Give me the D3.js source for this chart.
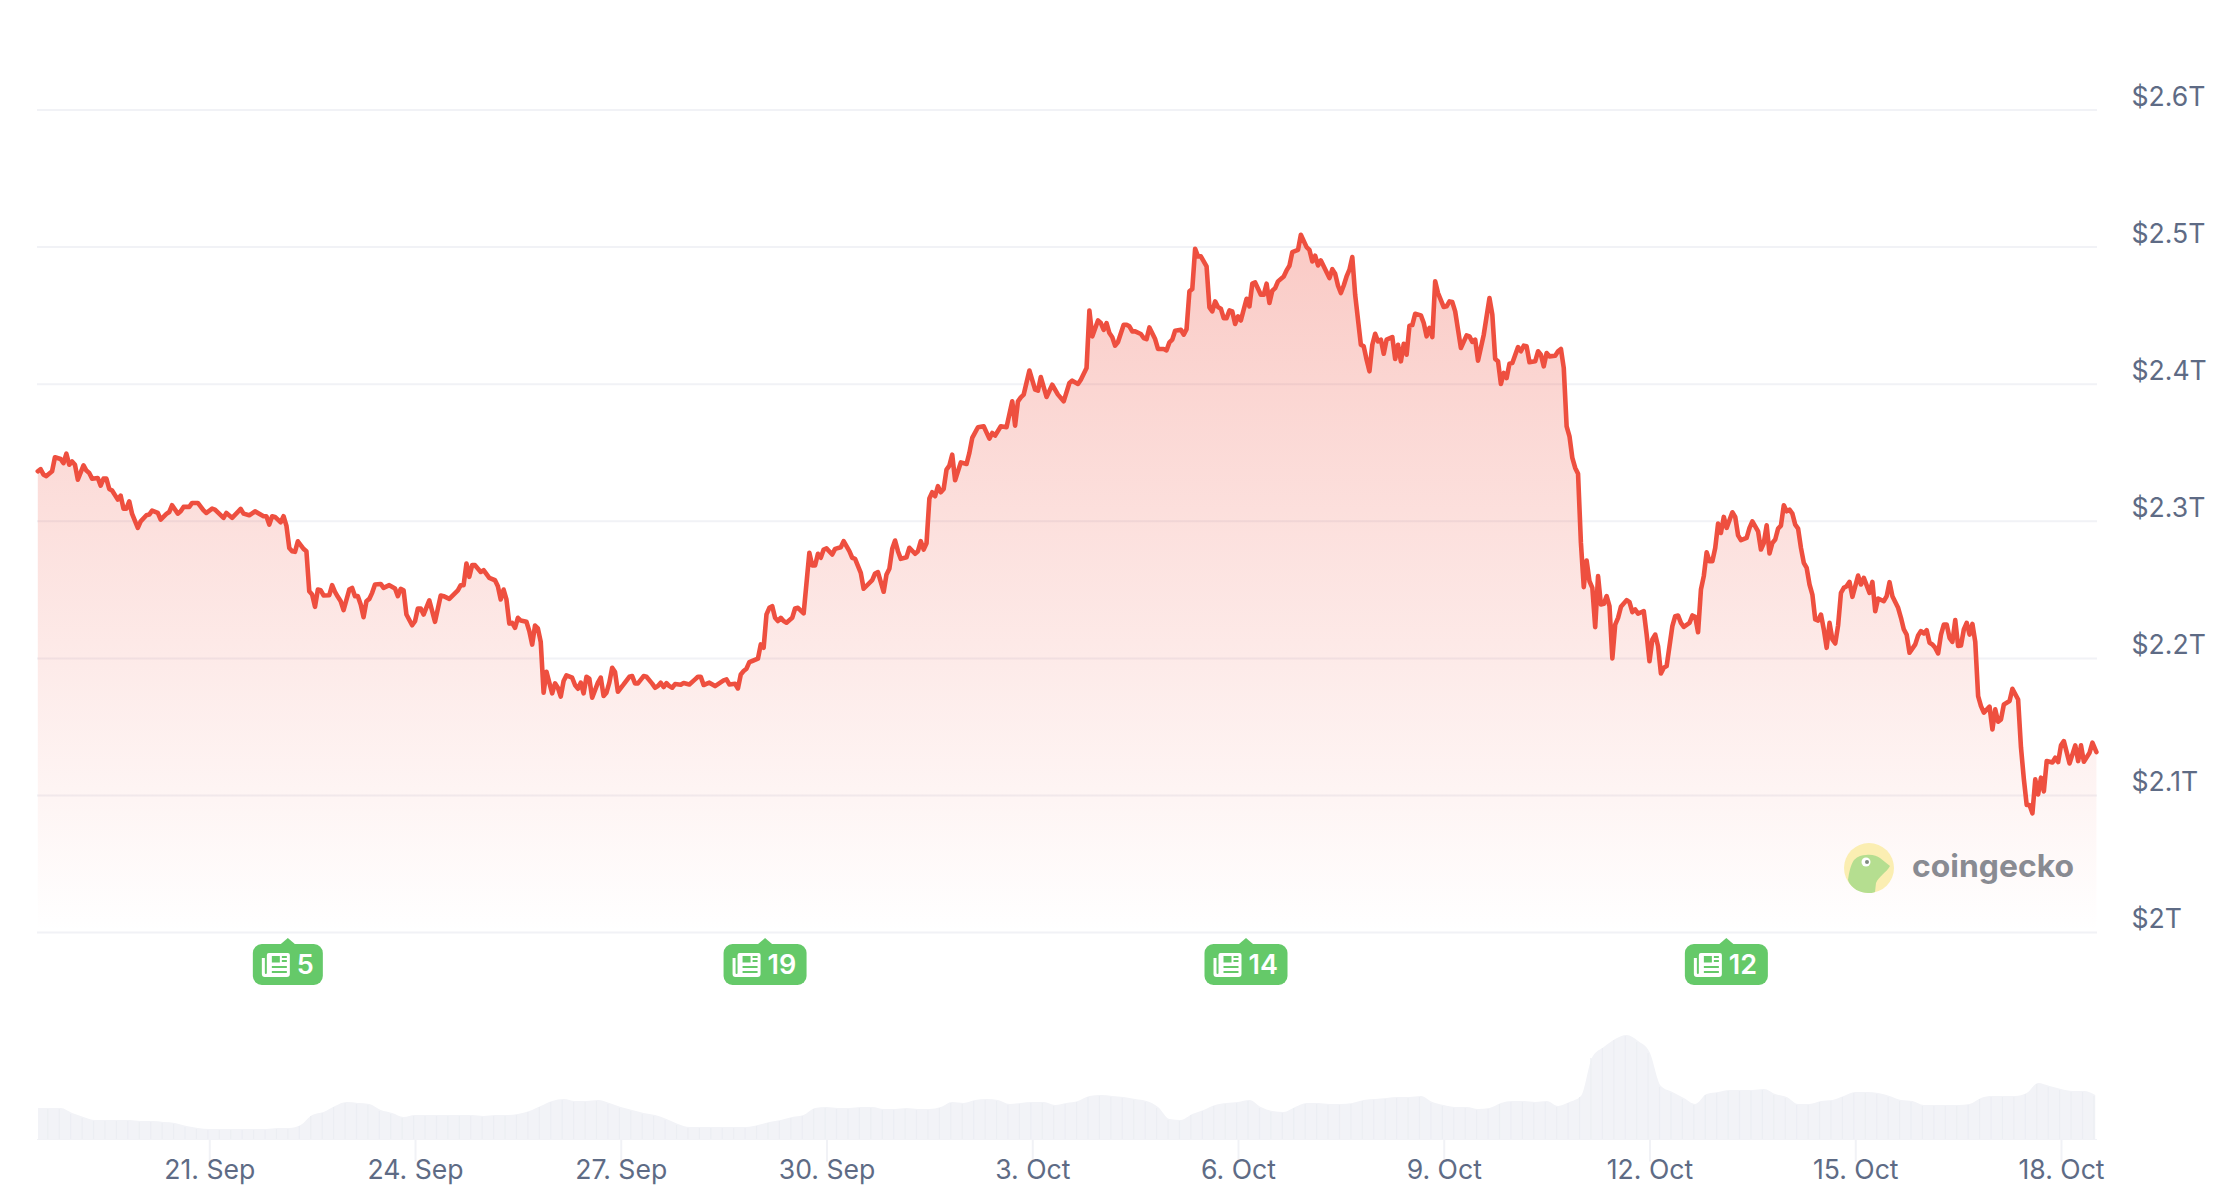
<!DOCTYPE html>
<html>
<head>
<meta charset="utf-8">
<script src="https://cdn.jsdelivr.net/npm/d3@7/dist/d3.min.js"></script>
<style>
html,body{margin:0;padding:0;background:#fff}
svg{display:block}
text{font-family:Inter,"Noto Sans",sans-serif}
</style>
</head>
<body>
<svg id="chart" width="2230" height="1198"></svg>
<script>
// Market cap readings: [hours since 18 Sep 12:00, $ billions]
const capLateSep1 = [[0,2336.5],[1,2338],[2,2334],[3,2333],[5,2336.5],[6,2346.7],[8,2345.4],[9,2342.5],[10,2349.3],[11,2341.3],[12,2343.7],[13,2341.3],[14,2330.4],[16,2340.8],[17,2337],[18,2335.2],[19,2331.1],[21,2331.6],[22,2326],[23,2331.1],[24,2331.1],[25,2323.6],[26,2322.4],[28,2315.8],[29,2318.7],[30,2309.2],[31,2309.2],[32,2314.6],[33,2305.4],[35,2295.2],[36,2300],[38,2304.4],[39,2304.9],[40,2307.8],[42,2306.1],[43,2301.2],[45,2305.4],[46,2306.8],[47,2311.7],[49,2305.6],[50,2307.3],[51,2310.5],[53,2310.5],[54,2313.4],[56,2313.4],[58,2308],[59,2306.1],[61,2309.2],[62,2308.5],[65,2302.5],[66,2306.1],[68,2302.5],[71,2309],[72,2305.6],[74,2304.4],[76,2307.3],[79,2303.7],[80,2303.7],[81,2297.6],[82,2303.7],[83,2303.2],[85,2299.3],[86,2303.7],[87,2296.9],[88,2280.6],[89,2278.2],[90,2277.7],[91,2285.4],[93,2279.9],[94,2278.2],[95,2249],[96,2246.6],[97,2237.6],[98,2250.2],[99,2249.7],[100,2245.9],[102,2246.1],[103,2253.4],[104,2248.5],[105,2244.9],[106,2241.7],[107,2235.2],[109,2250.2],[110,2251.4],[111,2245.4],[112,2245.4],[113,2239.3],[114,2230.1],[115,2241.7],[116,2243.4],[117,2247.8],[118,2253.9],[120,2254.3],[121,2251.4],[123,2253.4],[125,2251],[126,2245.4],[127,2250.7],[128,2249.7],[129,2232],[131,2224.2],[132,2227.1],[133,2236.4],[134,2236.4],[135,2232],[137,2242.4],[139,2226.7],[141,2245.9],[142,2245.4],[144,2243.4],[147,2249.7],[148,2253.4],[149,2253.4],[150,2269.2],[151,2259.5],[152,2268],[153,2268],[155,2263.1],[156,2264.3],[158,2258.7],[160,2257],[161,2252.6],[162,2243],[163,2250.2],[164,2243],[165,2225.4],[166,2225.9],[167,2222.3],[168,2229.6],[169,2227.6],[171,2226.7],[172,2219.9],[173,2210.1],[174,2224]];
const capLateSep2 = [[175,2221.9],[176,2211.9],[177,2175],[178,2190.3],[179,2182.3],[180,2174.5],[181,2181.8],[182,2178.6],[183,2172.1],[184,2183.5],[185,2187.6],[187,2185.9],[188,2180.6],[189,2177.9],[190,2182.3],[191,2174.5],[192,2186.6],[193,2185.2],[194,2171.3],[196,2182.3],[197,2186],[198,2172.6],[199,2175],[200,2182.3],[201,2193.2],[202,2190],[203,2175.7],[205,2181],[207,2186.6],[208,2187.1],[209,2181.8],[210,2181.8],[212,2187.1],[213,2186.6],[215,2181.6],[216,2178.6],[217,2179.8],[218,2182.3],[219,2179.1],[220,2182],[221,2179.8],[222,2178.6],[223,2181.3],[225,2180.8],[226,2182],[228,2181],[230,2184.7],[231,2186.6],[232,2186.6],[233,2180.6],[235,2182.3],[237,2179.8],[240,2184],[241,2184.7],[242,2181],[244,2181.5],[245,2178.1],[246,2188.3],[247,2190.8],[248,2192.5],[249,2197.3],[250,2198.1],[252,2199.8],[253,2210.2],[254,2207.8],[255,2232.1],[256,2236.9],[257,2238.1],[258,2229.6],[259,2227.2],[260,2229.6],[261,2227.2],[262,2226],[264,2229.6],[265,2236.4],[266,2236.9],[268,2232.8],[270,2277],[271,2267.8],[272,2267.8],[273,2276.3],[274,2273.4],[275,2279.4],[276,2280.2],[278,2275.8],[279,2279.9],[281,2281.1],[282,2285.5],[284,2278.2],[285,2273.4],[286,2272.6],[288,2262.4],[289,2250.8],[292,2257.1],[293,2261.9],[294,2262.9],[296,2248.6],[297,2261.2],[298,2265.4],[299,2279.9],[300,2286],[301,2278.2],[302,2272.6],[304,2273.8],[305,2280.7],[307,2276.3],[308,2278.2],[309,2285.5],[310,2279.4],[311,2284]];
const capEarlyOct = [[312,2316.6],[313,2321.2],[314,2318.3],[315,2325.6],[316,2321.2],[317,2323.6],[318,2337.7],[319,2340.6],[320,2348.6],[321,2329.9],[323,2343],[325,2341.8],[326,2349.9],[327,2360.8],[329,2368.6],[331,2369.3],[333,2360.3],[334,2364.4],[335,2362.5],[337,2369.3],[339,2368.6],[341,2387.5],[342,2369.8],[343,2387.5],[344,2390.4],[345,2392.4],[347,2410],[349,2396],[350,2395.3],[351,2405.2],[353,2390.7],[355,2399.6],[357,2392.4],[359,2387.5],[361,2400.9],[362,2402.6],[364,2400.2],[365,2403.3],[367,2411.8],[368,2453.8],[369,2434.9],[371,2446.5],[372,2444.6],[373,2439.7],[374,2444.6],[375,2437.3],[376,2434.2],[377,2428.1],[378,2430.8],[380,2443.4],[381,2443.4],[382,2442.2],[383,2438.5],[384,2438.5],[386,2436.6],[387,2433.7],[388,2432.9],[389,2441.4],[391,2432.9],[392,2425.7],[394,2425.7],[395,2424.7],[396,2430.5],[397,2432.5],[398,2439],[400,2439.7],[401,2436.1],[402,2440.2],[403,2467.7],[404,2469.4],[405,2498.8],[406,2493.2],[407,2493.2],[408,2489.5],[409,2485.9],[410,2456],[411,2453.1],[412,2460.4],[413,2456.3],[414,2455.1],[415,2448.2],[416,2448.2],[417,2453.8],[418,2453.1],[419,2443.9],[420,2449.5],[421,2446.5],[423,2462.3],[424,2456.7],[425,2473.3],[426,2474.2],[428,2465.2],[429,2465.2],[430,2473.3],[431,2459.2],[432,2468.2],[433,2470.1],[434,2475],[436,2478.6],[437,2483],[438,2486.4],[439,2496.3],[441,2498],[442,2509],[444,2500],[445,2498],[446,2489.5],[447,2493.7],[448,2486.6],[449,2490.3],[452,2477.4],[453,2483.9],[454,2480.6],[455,2471.8],[456,2466.5],[457,2472],[458,2478.6],[459,2483.5],[460,2492.7],[461,2465.2],[463,2428.8],[464,2427.6],[465,2417.9],[466,2409.4],[467,2428.8],[468,2436.8],[469,2431.2],[470,2432.5],[471,2422.2],[472,2432.5],[474,2434.4],[475,2418.4],[476,2428.8],[477,2416.7],[478,2429.5],[479,2421.5],[480,2442.7],[481,2443.1],[482,2451.4],[484,2450.2],[485,2444.6],[486,2434.9],[487,2441],[488,2434.4],[489,2475],[490,2466.5],[492,2456.3],[493,2456.8],[494,2460.4],[495,2459.9],[496,2453.1],[498,2426.4],[500,2435.6],[501,2434.9],[502,2430.8],[503,2432.5],[504,2417.2],[506,2436.1],[508,2462.8],[509,2450.7],[510,2418.4],[511,2416.7],[512,2400.2],[513,2408.2],[514,2404.5],[515,2415],[516,2415.5],[518,2427.1],[519,2424],[520,2428.1],[521,2427.6],[522,2416],[524,2416.7],[525,2424],[526,2421.5],[527,2413],[528,2422.7],[529,2420.3],[531,2420.8],[532,2424],[533,2425.7],[534,2411.8],[535,2369.3],[536,2362],[537,2346.2],[538,2338.9],[539,2334.6]];
const capMidOct = [[540,2284.2],[541,2252],[542,2271.4],[543,2256.3],[544,2251.5],[545,2222.8],[546,2260],[547,2239.3],[548,2239.8],[549,2245.4],[550,2238.1],[551,2200],[552,2224.7],[553,2229.6],[554,2237.6],[556,2242.5],[557,2241],[558,2233.7],[559,2235.7],[560,2232.7],[562,2234.4],[563,2217.4],[564,2198],[565,2213.8],[566,2217.4],[567,2208.9],[568,2189],[569,2193.2],[570,2194.4],[572,2223.5],[573,2230.8],[574,2231.3],[575,2225.9],[576,2223],[578,2225.9],[579,2231.3],[580,2230.3],[581,2219.1],[582,2250.2],[583,2260],[584,2277.4],[585,2270.9],[586,2270.9],[587,2280.6],[588,2298.3],[589,2291.5],[590,2303.2],[591,2295.2],[593,2306.6],[594,2303.2],[595,2289.8],[596,2286.2],[598,2287.9],[599,2295.2],[600,2300],[602,2292.7],[603,2279.4],[604,2284.2],[605,2297.1],[606,2276.5],[607,2284.2],[608,2286.7],[609,2294.7],[610,2296.9],[611,2311.7],[612,2307.3],[613,2308.5],[614,2305.6],[615,2297.6],[616,2294.7],[617,2280.6],[618,2269.7],[619,2266],[620,2253.9],[621,2246.6],[622,2228.4],[623,2227.6],[624,2232],[625,2221.1],[626,2207.7],[627,2225.9],[628,2213.8],[629,2210.9],[630,2224],[631,2247.8],[632,2251.5],[633,2252.7],[634,2255.8],[635,2244.9],[637,2260.4],[638,2253.9],[639,2258.7],[641,2247.8],[642,2255.8],[643,2234.4],[644,2243.7],[646,2241.7],[647,2245.4],[648,2255.6],[649,2245.4],[651,2236.9],[652,2229.6],[653,2221.1],[654,2217.4],[655,2204.1],[657,2210.2],[658,2216.7],[659,2219.9],[660,2218.2],[661,2220.6],[662,2211.4],[663,2210.2],[664,2207.7],[665,2203.6],[666,2217.4],[667,2224.7],[668,2224.7],[669,2215],[670,2212.1],[671,2227.9],[672,2209],[673,2209.4],[674,2221.1],[675,2225.9],[676,2217.4],[677,2225.2],[678,2212]];
const capLastDays = [[679,2172.5],[680,2165.2],[681,2160.4],[683,2164.8],[684,2148.2],[685,2162.8],[686,2153.8],[687,2155.5],[688,2166.4],[690,2168.9],[691,2177.8],[693,2170],[694,2135],[695,2112],[696,2093.1],[697,2093.1],[698,2087],[699,2111.8],[700,2100.8],[701,2113],[702,2103],[703,2125.1],[705,2124.1],[706,2127.6],[707,2124.4],[708,2136.6],[709,2139.7],[711,2123.4],[713,2136.6],[714,2125.1],[715,2136.6],[716,2124.7],[718,2131.2],[719,2138.5],[720.4,2131.7]];

// Four-hourly volume readings, arbitrary $ billions
const volumeA = [31,31,31,26,22,19,19,19,19,18,18,17,16,13,11,10,10,10,10,10,10,11,11,14,24,27,33,37,36,35,29,26,22,24,24,24,24,24,24,23,24,24,25,28,33,38,40,38,38,39,36,32,29,26,24,20,15,12,12,12,12,12,12,14];
const volumeB = [17,19,22,24,31,32,31,31,32,32,30,30,31,30,30,32,37,36,39,40,39,35,36,37,37,34,36,38,43,44,43,42,40,38,32,20,19,25,29,34,36,37,39,32,28,27,32,36,36,35,35,36,39,40,41,42,42,43,37,34,32,32,30,31,36,38,38,37,38];
const volumeC = [33,37,43,82,92,100,104,98,87,53,47,41,35,45,47,49,49,49,50,45,42,35,35,38,39,43,47,47,46,43,39,38,34,34,34,34,35,41,43,43,43,46,56,53,50,48,48,44];

const priceTicks = [2000,2100,2200,2300,2400,2500,2600];
const priceLabels = ["$2T","$2.1T","$2.2T","$2.3T","$2.4T","$2.5T","$2.6T"];
const dateTicks = [60,132,204,276,348,420,492,564,636,708];
const dateLabels = ["21. Sep","24. Sep","27. Sep","30. Sep","3. Oct","6. Oct","9. Oct","12. Oct","15. Oct","18. Oct"];
const newsHours = [87.5,254.5,422.8,590.9];
const newsCounts = [5,19,14,12];

const marketCap = [...capLateSep1,...capLateSep2,...capEarlyOct,...capMidOct,...capLastDays];
const volume = [...volumeA,...volumeB,...volumeC];

const svg = d3.select("#chart");
const x = d3.scaleLinear().domain([0,720.6]).range([37.8,2097]);
const y = d3.scaleLinear().domain([2000,2600]).range([932.6,110]);
const yVol = d3.scaleLinear().domain([0,104]).range([1139,1035]);

const GRID="#f1f2f6", TEXT="#5e6b85", RED="#ee4f3f", GREEN="#65c969";

const defs = svg.append("defs");
const grad = defs.append("linearGradient").attr("id","capFill")
  .attr("gradientUnits","userSpaceOnUse").attr("x1",0).attr("x2",0)
  .attr("y1",y(d3.max(marketCap,d=>d[1]))).attr("y2",y(2000));
grad.append("stop").attr("offset",0).attr("stop-color",RED).attr("stop-opacity",0.3);
grad.append("stop").attr("offset",1).attr("stop-color",RED).attr("stop-opacity",0);
defs.append("clipPath").attr("id","plot").append("rect")
  .attr("x",37.8).attr("y",0).attr("width",2096.5-37.8).attr("height",1198);

// y axis + grid
const yAxis = d3.axisRight(y).tickValues(priceTicks)
  .tickFormat((d,i)=>priceLabels[i]).tickSize(0).tickPadding(0);
const gy = svg.append("g").attr("transform","translate(2131.5,0)").call(yAxis);
gy.select(".domain").remove();
gy.selectAll("text").attr("x",0).attr("dy",null).attr("y",-12)
  .attr("dominant-baseline","middle").attr("fill",TEXT).attr("font-size",26.6);

svg.append("g").selectAll("line").data(priceTicks).join("line")
  .attr("x1",37).attr("x2",2097).attr("y1",d=>y(d)).attr("y2",d=>y(d))
  .attr("stroke",GRID).attr("stroke-width",2);

// volume: smooth envelope through the readings, with the faint seams between columns
const volStep = 4;
const volG = svg.append("g").attr("clip-path","url(#plot)");
const volArea = d3.area().x((d,i)=>x(i*volStep)).y0(yVol(0)).y1(d=>yVol(d)).curve(d3.curveMonotoneX);
volG.append("path").datum(volume).attr("d",volArea).attr("fill","#f2f3f7");
volG.selectAll("rect").data(volume).join("rect")
  .attr("x",(d,i)=>x(i*volStep-0.7))
  .attr("width",1.2)
  .attr("y",d=>yVol(d)+1).attr("height",d=>Math.max(0,yVol(0)-yVol(d)-1))
  .attr("fill","#eceef3");

// x axis
const xAxis = d3.axisBottom(x).tickValues(dateTicks)
  .tickFormat((d,i)=>dateLabels[i]).tickSize(22).tickPadding(0);
const gx = svg.append("g").attr("transform","translate(0,1139.5)").call(xAxis);
gx.select(".domain").attr("d","M37,0H2097").attr("stroke",GRID).attr("stroke-width",1);
gx.selectAll(".tick line").attr("stroke",GRID).attr("stroke-width",2);
gx.selectAll("text").attr("y",39.5).attr("dy",null).attr("fill",TEXT).attr("font-size",26.6).attr("text-anchor","middle");

// area + line
const area = d3.area().x(d=>x(d[0])).y0(y(2000)).y1(d=>y(d[1]));
const line = d3.line().x(d=>x(d[0])).y(d=>y(d[1]));
svg.append("path").datum(marketCap).attr("d",area).attr("fill","url(#capFill)");
svg.append("path").datum(marketCap).attr("d",line).attr("fill","none")
  .attr("stroke",RED).attr("stroke-width",4.6).attr("stroke-linejoin","round").attr("stroke-linecap","round");

// watermark
const logo = svg.append("g").attr("transform","translate(1869,868)");
logo.append("circle").attr("r",25).attr("fill","#fbeeb2");
logo.append("path").attr("fill","#b5de90")
  .attr("d","M-21,12 C-20,4 -18,-4 -15,-8 C-11,-12 -7,-13 -3,-13 C3,-14 8,-12 11,-10 L21,-2 C17,5 10,8 7,15 L6,24 C4,25 1,25 -1,25 C-8,25 -18,21 -21,12Z");
logo.append("circle").attr("cx",-3).attr("cy",-6).attr("r",4.5).attr("fill","#fff");
logo.append("circle").attr("cx",-2).attr("cy",-6).attr("r",2).attr("fill","#7f8a80");
svg.append("text").attr("x",1912).attr("y",877).text("coingecko")
  .attr("font-size",31).attr("font-weight",700).attr("fill","#898b92")
  .attr("textLength",162).attr("lengthAdjust","spacingAndGlyphs");

// news badges
const badges = svg.append("g").attr("transform","translate(0,-1)").selectAll("g").data(newsHours).join("g")
  .attr("transform",d=>`translate(${x(d)},0)`);
badges.each(function(d,i){
  const g = d3.select(this);
  const label = String(newsCounts[i]);
  const w = label.length>1 ? 83 : 70;
  const left = -w/2;
  g.append("path").attr("fill",GREEN).attr("d",`M-7,945 L0,939 L7,945 Z`);
  g.append("rect").attr("x",left).attr("y",945).attr("width",w).attr("height",41).attr("rx",9).attr("fill",GREEN);
  const ix = left+9;
  const icon = g.append("g").attr("transform",`translate(${ix},953)`);
  icon.append("path").attr("fill","#fff")
    .attr("d","M5,3 a2,2 0 0 1 2,-2 h19 a2,2 0 0 1 2,2 v19 a3,3 0 0 1 -3,3 h-22 a3,3 0 0 1 -3,-3 v-16 h3 v15 a1,1 0 0 0 2,0 Z");
  icon.append("rect").attr("x",10).attr("y",4).attr("width",8).attr("height",6.5).attr("fill",GREEN);
  [[20,4,5],[20,8,5],[10,14,15],[10,19,15]].forEach(r=>{
    icon.append("rect").attr("x",r[0]).attr("y",r[1]).attr("width",r[2]).attr("height",2).attr("fill",GREEN);
  });
  g.append("text").attr("x",ix+35).attr("y",975).text(label)
    .attr("font-size",27).attr("font-weight",600).attr("fill","#fff");
});
</script>
</body>
</html>
